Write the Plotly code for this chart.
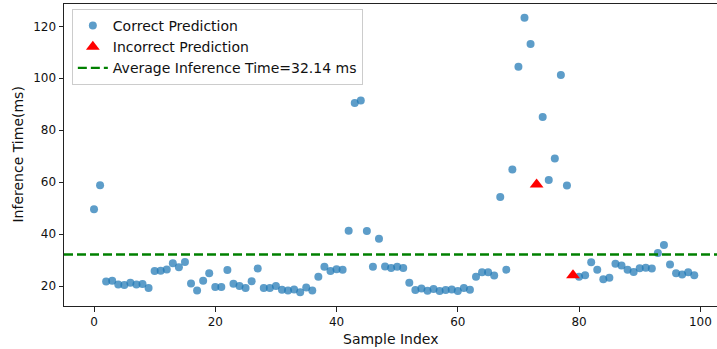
import plotly.graph_objects as go

# ---- data ----
sample_index = list(range(100))
inference_times = [
    49.6, 58.8, 21.7, 22.0, 20.6, 20.4, 21.3, 20.6, 20.8, 19.2,
    25.8, 25.9, 26.4, 28.8, 27.2, 29.2, 21.0, 18.3, 22.0, 24.9,
    19.6, 19.6, 26.2, 20.9, 20.0, 19.2, 21.8, 26.7, 19.2, 19.2,
    20.0, 18.6, 18.3, 18.7, 17.6, 19.4, 18.3, 23.6, 27.4, 25.8,
    26.5, 26.3, 41.3, 90.5, 91.4, 41.2, 27.4, 38.2, 27.5, 26.9,
    27.4, 26.9, 21.3, 18.5, 19.0, 18.2, 18.8, 18.1, 18.5, 18.7,
    18.1, 19.2, 18.6, 23.6, 25.3, 25.3, 24.0, 54.3, 26.3, 64.9,
    104.4, 123.3, 113.2, 59.1, 85.1, 60.8, 69.1, 101.3, 58.7, 24.1,
    23.6, 24.1, 29.1, 26.3, 22.6, 23.2, 28.6, 27.9, 26.3, 25.4,
    26.8, 27.0, 26.7, 32.7, 35.8, 28.3, 24.9, 24.4, 25.3, 24.1,
]
incorrect_indices = [73, 79]
avg_time = 32.14
x_ticks = [0, 20, 40, 60, 80, 100]
y_ticks = [20, 40, 60, 80, 100, 120]
x_title = "Sample Index"
y_title = "Inference Time(ms)"

correct_x = [i for i in sample_index if i not in incorrect_indices]
correct_y = [inference_times[i] for i in correct_x]
wrong_x = [i for i in sample_index if i in incorrect_indices]
wrong_y = [inference_times[i] for i in wrong_x]

FONT = "DejaVu Sans"
TXT = "#111"

fig = go.Figure()
fig.add_trace(go.Scatter(
    x=correct_x, y=correct_y, mode="markers", name="Correct Prediction",
    marker=dict(color="rgba(31,119,180,0.72)", size=8, line=dict(width=0)),
    legendgroup="a",
))
fig.add_trace(go.Scatter(
    x=wrong_x, y=wrong_y, mode="markers", name="Incorrect Prediction",
    marker=dict(color="#ff0000", size=12, symbol="triangle-up", line=dict(width=0)),
    legendgroup="b",
))
fig.add_shape(
    type="line", xref="paper", x0=0, x1=1, yref="y", y0=avg_time, y1=avg_time,
    line=dict(color="#008000", width=2.4, dash="9px,4px"),
    showlegend=True, name=f"Average Inference Time={avg_time:.2f} ms",
    legendgroup="c",
)

axis_common = dict(
    showgrid=False, zeroline=False, showline=True, linecolor="#222", linewidth=1,
    ticks="outside", ticklen=4.5, tickwidth=1, tickcolor="#222",
    tickfont=dict(family=FONT, size=12, color=TXT),
    automargin=False,
)
fig.update_xaxes(range=[-4.95, 102.75], tickvals=x_ticks, mirror=True, **axis_common)
fig.update_yaxes(range=[12.3, 128.6], tickvals=y_ticks, **axis_common)

fig.add_annotation(
    text=x_title, xref="paper", yref="paper", x=0.5, y=-0.109,
    xanchor="center", yanchor="middle", showarrow=False,
    font=dict(family=FONT, size=14, color=TXT),
)
fig.add_annotation(
    text=y_title, xref="paper", yref="paper", x=-0.0712, y=0.5,
    xanchor="center", yanchor="middle", showarrow=False, textangle=-90,
    font=dict(family=FONT, size=14, color=TXT),
)

fig.update_layout(
    width=717, height=349,
    margin=dict(l=64, r=0, t=4, b=43),
    plot_bgcolor="white", paper_bgcolor="white",
    font=dict(family=FONT, size=14, color=TXT),
    legend=dict(
        x=0.012, y=0.984, xanchor="left", yanchor="top",
        bgcolor="rgba(255,255,255,0.8)", bordercolor="#cccccc", borderwidth=1,
        font=dict(family=FONT, size=14, color=TXT),
        traceorder="grouped", tracegroupgap=0,
    ),
)

fig.write_html(
    "out.html",
    config={"displayModeBar": False},
    post_script="document.body.style.margin='0';document.body.style.overflow='hidden';",
)
